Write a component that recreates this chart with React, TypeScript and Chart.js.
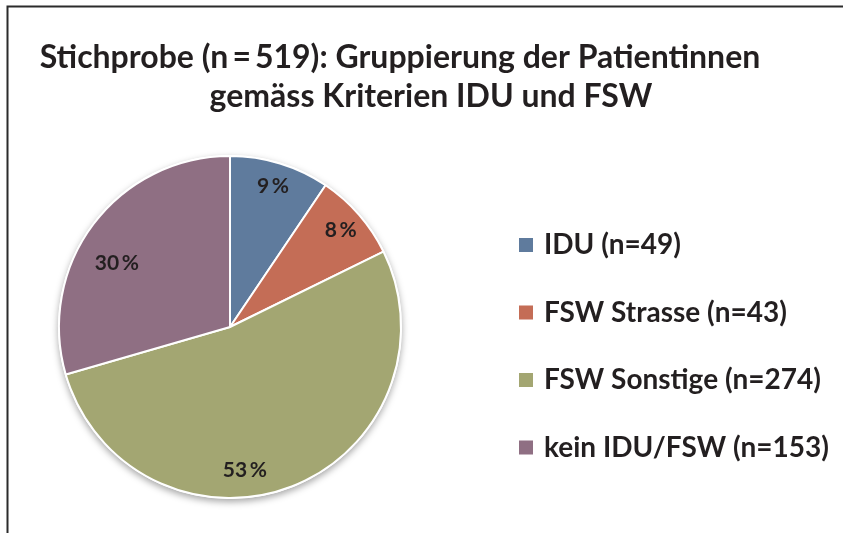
import React, { useEffect, useRef } from "react";
import { Chart, registerables } from "chart.js";

Chart.register(...registerables);

const titleLines = ["Stichprobe (n\u2009=\u2009519): Gruppierung der Patientinnen", "gemäss Kriterien IDU und FSW"];
const categories = ["IDU (n=49)", "FSW Strasse (n=43)", "FSW Sonstige (n=274)", "kein IDU/FSW (n=153)"];
const counts = [49, 43, 274, 153];
const percentLabels = ["9\u2009%", "8\u2009%", "53\u2009%", "30\u2009%"];
const colors = ["#5f7b9d", "#c46d56", "#a3a672", "#8f6f83"];

const FONT = "Lato, 'Open Sans', sans-serif";
const TEXT_COLOR = "#231f20";

// label placement styling: fraction along the arc angle & radial fraction
const labelAngleFrac = [0.5, 0.5, 0.58, 0.43];
const labelRadiusFrac = [0.86, 0.86, 0.84, 0.76];

const decorPlugin = {
  id: "decor",
  beforeDraw(chart: any) {
    const ctx = chart.ctx;
    ctx.save();
    ctx.fillStyle = "#ffffff";
    ctx.fillRect(0, 0, chart.width, chart.height);
    ctx.strokeStyle = "#2b2b2b";
    ctx.lineWidth = 2;
    ctx.beginPath();
    ctx.moveTo(7.5, chart.height);
    ctx.lineTo(7.5, 6.5);
    ctx.lineTo(chart.width, 6.5);
    ctx.stroke();
    // title
    ctx.fillStyle = TEXT_COLOR;
    ctx.font = `bold 32px ${FONT}`;
    ctx.textAlign = "center";
    ctx.textBaseline = "middle";
    ctx.fillText(titleLines[0], 400, 58);
    ctx.fillText(titleLines[1], 431, 97);
    ctx.restore();
  },
  beforeDatasetsDraw(chart: any) {
    const meta = chart.getDatasetMeta(0);
    const arc = meta.data[0];
    if (!arc) return;
    const { x, y, outerRadius } = arc.getProps(["x", "y", "outerRadius"], true);
    const ctx = chart.ctx;
    ctx.save();
    ctx.shadowColor = "rgba(0,0,0,0.35)";
    ctx.shadowBlur = 7;
    ctx.shadowOffsetY = 3;
    ctx.fillStyle = "#ffffff";
    ctx.beginPath();
    ctx.arc(x, y, outerRadius + 1, 0, Math.PI * 2);
    ctx.fill();
    ctx.restore();
  },
  afterDatasetsDraw(chart: any) {
    const ctx = chart.ctx;
    const meta = chart.getDatasetMeta(0);
    ctx.save();
    ctx.fillStyle = TEXT_COLOR;
    ctx.font = `bold 21px ${FONT}`;
    ctx.textAlign = "center";
    ctx.textBaseline = "middle";
    meta.data.forEach((el: any, i: number) => {
      const p = el.getProps(["x", "y", "startAngle", "endAngle", "outerRadius"], true);
      const a = p.startAngle + (p.endAngle - p.startAngle) * labelAngleFrac[i];
      const r = p.outerRadius * labelRadiusFrac[i];
      ctx.fillText(percentLabels[i], p.x + Math.cos(a) * r, p.y + Math.sin(a) * r);
    });
    // legend
    ctx.font = `bold 28px ${FONT}`;
    ctx.textAlign = "left";
    const labels = chart.data.labels as string[];
    labels.forEach((lab, i) => {
      const cy = 245 + i * 67.5;
      ctx.fillStyle = colors[i];
      ctx.fillRect(519, cy - 7, 14, 14);
      ctx.fillStyle = TEXT_COLOR;
      ctx.fillText(lab, 544, cy);
    });
    ctx.restore();
  },
};

export default function App() {
  const ref = useRef<HTMLCanvasElement>(null);
  useEffect(() => {
    document.body.style.margin = "0";
    const chart = new Chart(ref.current!, {
      type: "pie",
      data: {
        labels: categories,
        datasets: [
          {
            data: counts,
            backgroundColor: colors,
            borderColor: "#ffffff",
            borderWidth: 2,
            hoverOffset: 0,
          },
        ],
      },
      options: {
        animation: false,
        responsive: false,
        events: [],
        layout: { padding: { left: 58, right: 441, top: 155, bottom: 34 } },
        plugins: { legend: { display: false }, title: { display: false }, tooltip: { enabled: false } },
      },
      plugins: [decorPlugin],
    });
    return () => chart.destroy();
  }, []);
  return (
    <div style={{ position: "fixed", left: 0, top: 0, width: 843, height: 533, background: "#fff" }}>
      <canvas ref={ref} width={843} height={533} style={{ width: 843, height: 533 }} />
    </div>
  );
}
